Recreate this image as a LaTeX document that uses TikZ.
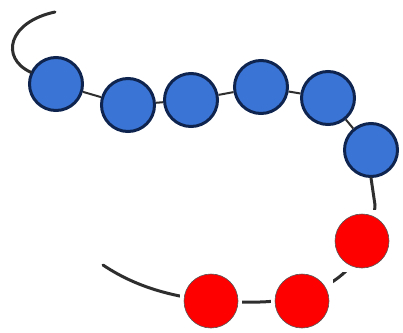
\documentclass[tikz,border=0pt]{standalone}
\definecolor{bluefill}{HTML}{3A74D4}
\definecolor{blueedge}{HTML}{0F2550}
\definecolor{wire}{HTML}{2E2E2E}
\definecolor{redfill}{HTML}{FF0000}
\definecolor{rededge}{HTML}{555555}
\begin{document}
\begin{tikzpicture}[x=1pt,y=-1pt,
  bead/.style={circle,fill=bluefill,draw=blueedge,line width=3pt,minimum size=53pt,inner sep=0pt},
  redbead/.style={circle,fill=redfill,draw=rededge,line width=0.6pt,minimum size=54pt,inner sep=0pt},
  patch/.style={rectangle,fill=white,minimum size=62pt,inner sep=0pt},
  wireline/.style={draw=wire,line width=3pt,line cap=round}]
\useasboundingbox (0,0) rectangle (403,332);
% blue beads
\node[bead] (b1) at (56,84) {};
\node[bead] (b2) at (128,105) {};
\node[bead] (b3) at (191,100) {};
\node[bead] (b4) at (261,87) {};
\node[bead] (b5) at (328,98) {};
\node[bead] (b6) at (371,150) {};
\draw[wire,line width=2pt] (b1) -- (b2);
\draw[wire,line width=2pt] (b2) -- (b3);
\draw[wire,line width=2pt] (b3) -- (b4);
\draw[wire,line width=2pt] (b4) -- (b5);
\draw[wire,line width=2pt] (b5) -- (b6);
% tail
\coordinate (tailend) at (55,12);
\draw[wireline] (b1.155) .. controls (0,58) and (8,22) .. (tailend);
% lower strand
\coordinate (bend) at (375,205);
\coordinate (low) at (260,302);
\coordinate (loose) at (103,265);
\draw[wireline] (b6.south) -- (bend) .. controls (372,262) and (330,300) .. (low) .. controls (190,304) and (140,290) .. (loose);
% white patches and red beads
\node[patch] (p1) at (211,301) {};
\node[patch] (p2) at (302,301) {};
\node[patch] (p3) at (362,241) {};
\node[redbead] (r1) at (p1) {};
\node[redbead] (r2) at (p2) {};
\node[redbead] (r3) at (p3) {};
\end{tikzpicture}
\end{document}
